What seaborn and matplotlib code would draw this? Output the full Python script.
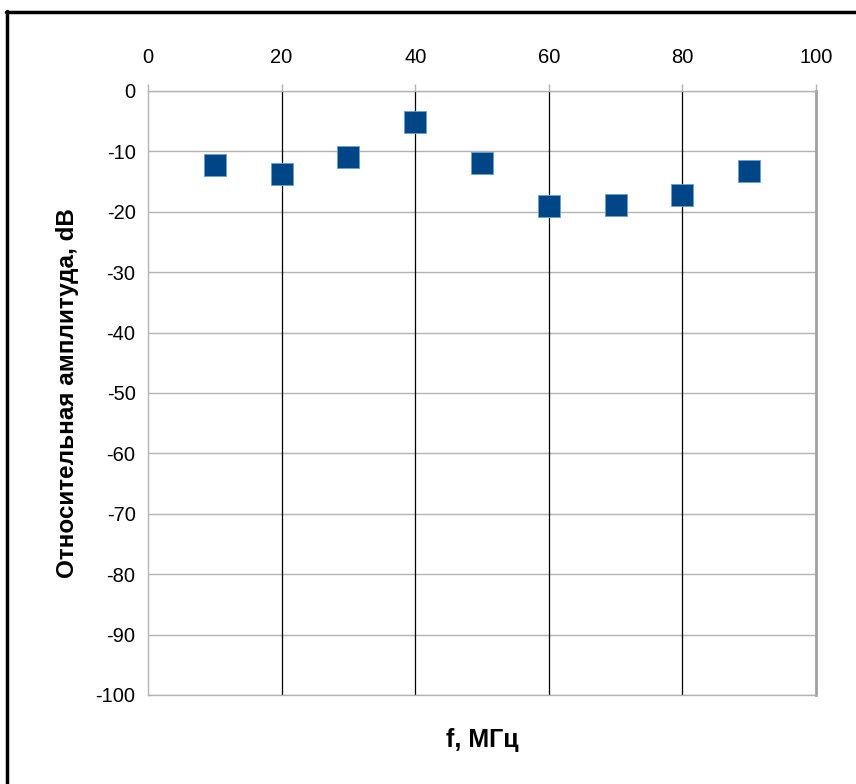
import matplotlib
matplotlib.use("Agg")
import matplotlib.pyplot as plt
import seaborn as sns
import pandas as pd
from matplotlib.lines import Line2D

freq = [10, 20, 30, 40, 50, 60, 70, 80, 90]
amplitude = [-12.3, -13.8, -11.0, -5.1, -12.0, -19.1, -18.8, -17.2, -13.2]
x_ticks = [0, 20, 40, 60, 80, 100]
y_ticks = [0, -10, -20, -30, -40, -50, -60, -70, -80, -90, -100]

sns.set_theme(style="white")
plt.rcParams['font.family'] = ['Liberation Sans', 'DejaVu Sans']
plt.rcParams['axes.unicode_minus'] = False

df = pd.DataFrame({"f": freq, "a": amplitude})

fig = plt.figure(figsize=(8.56, 7.84), dpi=100)
ax = fig.add_axes([148/856, 1-695/784, (816-148)/856, (695-91)/784])

# horizontal grey gridlines
for yv in y_ticks:
    ax.axhline(yv, color="#b3b3b3", lw=1.0, zorder=0)
# vertical black gridlines
for xv in x_ticks[1:-1]:
    ax.axvline(xv, color="black", lw=0.9, zorder=0)

sns.scatterplot(data=df, x="f", y="a", marker="s", s=235, color="#004586",
                edgecolor="#6a9fd0", linewidth=0.6, ax=ax, zorder=3, legend=False)

ax.set_xlim(0, 100)
ax.set_ylim(-100, 0)
ax.set_xticks(x_ticks)
ax.set_yticks(y_ticks)
ax.xaxis.tick_top()
ax.tick_params(axis="x", direction="out", length=5, width=1, color="#b3b3b3",
               labelsize=14.5, pad=12, labelcolor="black")
ax.tick_params(axis="y", direction="out", length=5, width=1, color="#b3b3b3",
               labelsize=14.5, pad=4, labelcolor="black")
for side in ["left", "top", "bottom"]:
    ax.spines[side].set_color("#b3b3b3")
    ax.spines[side].set_linewidth(1.0)
ax.spines["right"].set_color("#a0a0a0")
ax.spines["right"].set_linewidth(2.0)

ax.set_xlabel("")
ax.set_ylabel("Относительная амплитуда, dB", fontsize=17.5, fontweight="bold",
              labelpad=12, color="black")
fig.text(482/856, 1-740/784, "f, МГц", fontsize=18, fontweight="bold",
         ha="center", va="center", color="black")

# outer frame (top and left)
fig.add_artist(Line2D([6/856, 1], [1-12/784, 1-12/784], color="black", lw=2.5,
                      transform=fig.transFigure))
fig.add_artist(Line2D([7.5/856, 7.5/856], [0, 1-11/784], color="black", lw=2.5,
                      transform=fig.transFigure))

fig.savefig("out.png", dpi=100)
